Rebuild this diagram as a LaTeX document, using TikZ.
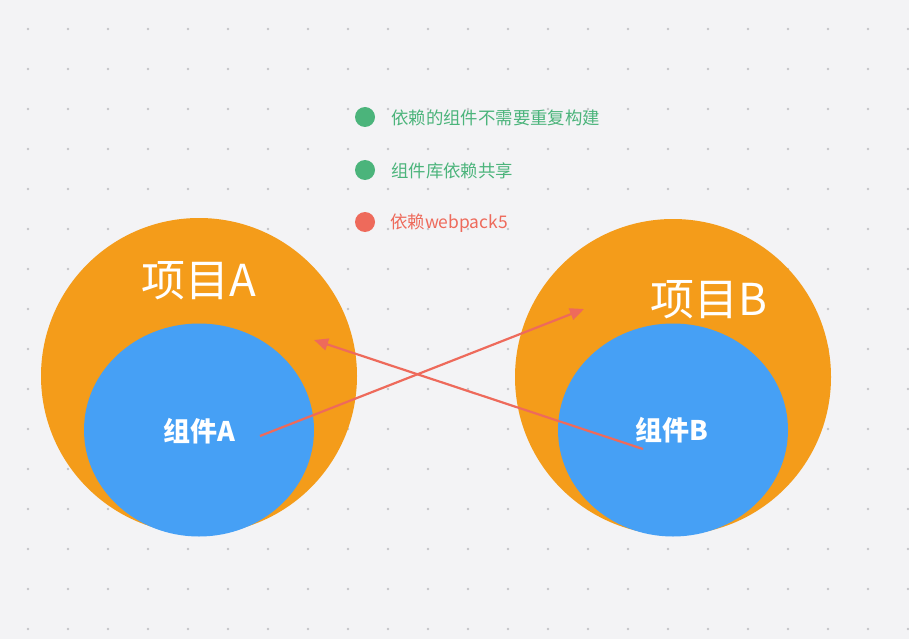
\documentclass[tikz,border=0pt]{standalone}
\usepackage{xcolor}
\usepackage{fontspec}
\usepackage{tikz}
\usetikzlibrary{arrows.meta,shapes.geometric}
\newfontfamily\cjk{Noto Sans CJK SC}

\definecolor{bgcol}{HTML}{F3F3F5}
\definecolor{dotcol}{HTML}{C4C4C8}
\definecolor{projorange}{HTML}{F49C1A}
\definecolor{compblue}{HTML}{46A0F5}
\definecolor{okgreen}{HTML}{4BB47B}
\definecolor{depred}{HTML}{EE6A5B}

\tikzset{
  project/.style={circle,fill=projorange,minimum size=316pt,inner sep=0pt},
  component/.style={ellipse,fill=compblue,minimum width=230pt,minimum height=213pt,inner sep=0pt},
  projlabel/.style={text=white,font=\cjk\fontsize{44}{48}\selectfont,inner sep=0pt},
  complabel/.style={text=white,font=\cjk\bfseries\fontsize{27}{30}\selectfont,inner sep=0pt},
  legendtext/.style={anchor=west,inner sep=0pt,font=\cjk\fontsize{17.4}{20}\selectfont},
  deparrow/.style={-{Triangle[length=14pt,width=12pt]},line width=2.2pt,draw=depred}
}

\begin{document}
\begin{tikzpicture}[x=1pt,y=-1pt]
    \fill[bgcol] (0,0) rectangle (909,639);
    \useasboundingbox (0,0) rectangle (909,639);
    % Dot grid
    \foreach \i in {0,...,22}
      \foreach \j in {0,...,15}
        \fill[dotcol] (28+40*\i,29+40*\j) circle (1.3);
    % Legend
    \fill[okgreen] (365,117) circle (10);
    \node[legendtext,text=okgreen] (legend1) at (391,118) {依赖的组件不需要重复构建};
    \fill[okgreen] (365,170) circle (10);
    \node[legendtext,text=okgreen] (legend2) at (391,171) {组件库依赖共享};
    \fill[depred] (365,222) circle (10);
    \node[legendtext,text=depred] (legend3) at (390,223) {依赖webpack5};
    % Projects
    \node[project] (projA) at (199,376) {};
    \node[project] (projB) at (673,377) {};
    \node[component] (compA) at (199,430) {};
    \node[component] (compB) at (673,430) {};
    % Labels
    \node[projlabel] (labA) at (199,281) {项目A};
    \node[projlabel] (labB) at (709,300) {项目B};
    \node[complabel] (nameA) at (199,431) {组件A};
    \node[complabel] (nameB) at (672,430) {组件B};
    % Arrows
    \coordinate (fromA) at (260,436);
    \coordinate (intoB) at (584,309);
    \coordinate (fromB) at (643,449);
    \coordinate (intoA) at (314,340);
    \draw[deparrow] (fromA) -- (intoB);
    \draw[deparrow] (fromB) -- (intoA);
  \end{tikzpicture}
\end{document}
